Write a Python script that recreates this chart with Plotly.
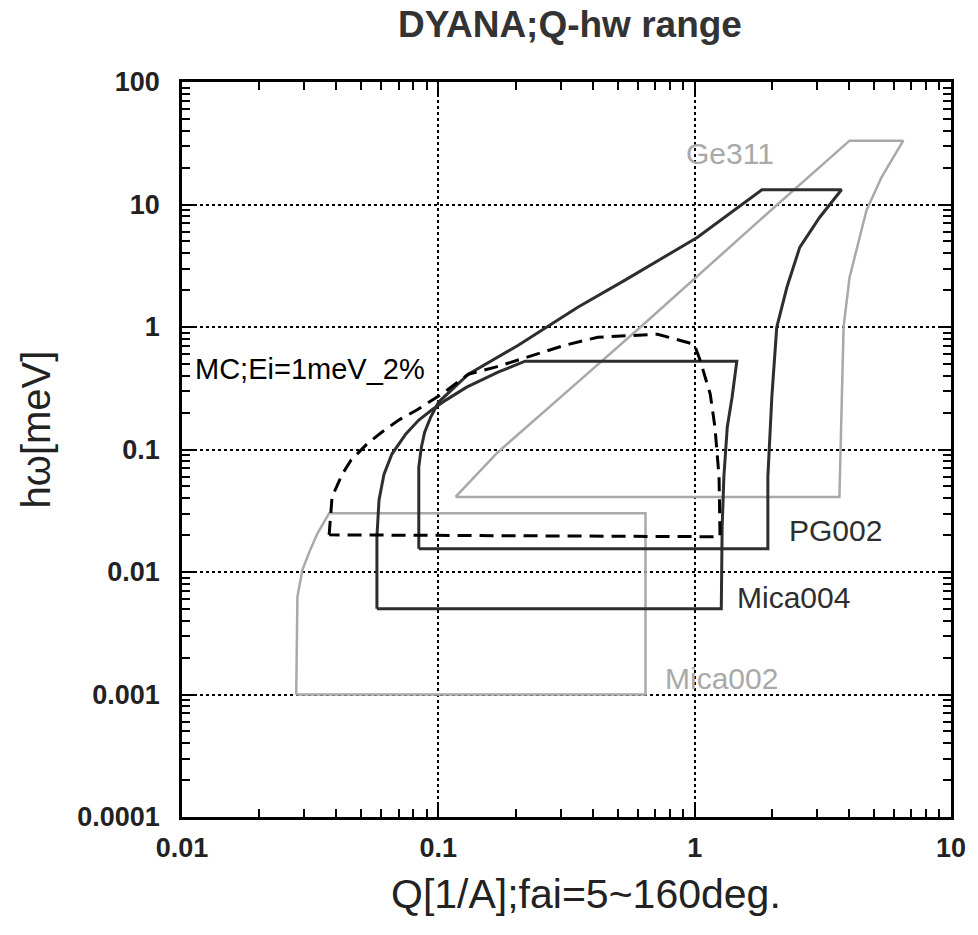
import plotly.graph_objects as go

# ---- data (Q [1/A], hw [meV]) ----
mc_q = [0.0375, 0.0385, 0.0422, 0.0457, 0.0527, 0.0603, 0.0701, 0.0824, 0.103, 0.131,
        0.167, 0.224, 0.312, 0.419, 0.716, 0.996, 1.05, 1.15, 1.20, 1.245, 1.256]
mc_e = [0.0201, 0.041, 0.063, 0.082, 0.111, 0.139, 0.174, 0.21, 0.283, 0.412,
        0.47, 0.568, 0.71, 0.825, 0.873, 0.723, 0.536, 0.283, 0.152, 0.0597, 0.0194]

pg002_q = [0.0839, 0.0839, 0.0859, 0.0885, 0.0934, 0.1003, 0.131, 0.205, 0.350, 0.533,
           1.023, 1.30, 1.83, 3.74, 3.07, 2.57, 2.29, 2.09, 2.0, 1.93, 1.93]
pg002_e = [0.01545, 0.072, 0.105, 0.139, 0.184, 0.244, 0.412, 0.71, 1.45, 2.40,
           5.38, 7.84, 13.2, 13.2, 7.84, 4.47, 2.11, 0.995, 0.268, 0.0597, 0.01545]

mica004_q = [0.0576, 0.0576, 0.0587, 0.0614, 0.0659, 0.0747, 0.0839, 0.0942, 0.107, 0.129,
             0.171, 0.218, 1.46, 1.40, 1.34, 1.30, 1.28, 1.27]
mica004_e = [0.00502, 0.0194, 0.0388, 0.063, 0.0918, 0.134, 0.174, 0.21, 0.253, 0.323,
             0.428, 0.526, 0.526, 0.268, 0.152, 0.0597, 0.0234, 0.00502]

mica002_q = [0.0279, 0.0280, 0.0282, 0.0295, 0.0314, 0.0337, 0.0375, 0.643, 0.643]
mica002_e = [0.001, 0.00431, 0.00628, 0.0104, 0.0146, 0.0205, 0.0302, 0.0302, 0.001]

ge311_q = [0.1167, 0.171, 0.350, 0.615, 2.04, 4.02, 6.51, 5.35, 4.68, 4.02, 3.81, 3.74, 3.67]
ge311_e = [0.041, 0.0955, 0.355, 1.0, 9.46, 33.2, 33.2, 16.6, 8.93, 2.54, 1.0, 0.184, 0.041]

x_ticks = [0.01, 0.1, 1, 10]
x_ticktext = ["0.01", "0.1", "1", "10"]
y_ticks = [0.0001, 0.001, 0.01, 0.1, 1, 10, 100]
y_ticktext = ["0.0001", "0.001", "0.01", "0.1", "1", "10", "100"]
x_minor = [m * 10.0 ** d for d in (-2, -1, 0) for m in range(2, 10)]
y_minor = [m * 10.0 ** d for d in (-4, -3, -2, -1, 0, 1) for m in range(2, 10)]

FONT = "Liberation Sans, Arial, sans-serif"
DARK = "#2e2e2e"
LIGHT = "#a9a9a9"


def closed(a):
    return list(a) + [a[0]]


fig = go.Figure()
fig.add_trace(go.Scatter(x=closed(ge311_q), y=closed(ge311_e), mode="lines",
                         line=dict(color=LIGHT, width=2.5)))
fig.add_trace(go.Scatter(x=closed(mica002_q), y=closed(mica002_e), mode="lines",
                         line=dict(color=LIGHT, width=2.5)))
fig.add_trace(go.Scatter(x=closed(mica004_q), y=closed(mica004_e), mode="lines",
                         line=dict(color=DARK, width=3)))
fig.add_trace(go.Scatter(x=closed(pg002_q), y=closed(pg002_e), mode="lines",
                         line=dict(color=DARK, width=3)))
fig.add_trace(go.Scatter(x=closed(mc_q), y=closed(mc_e), mode="lines",
                         line=dict(color="black", width=3, dash="14px,8px")))

axis_common = dict(
    type="log", showline=True, linecolor="black", linewidth=2.5, mirror="allticks",
    ticks="inside", ticklen=12, tickwidth=2, tickcolor="black",
    showgrid=True, gridcolor="black", griddash="dot", gridwidth=1.5,
    tickfont=dict(family=FONT, size=27, color="#222", weight="bold"),
)

fig.update_xaxes(range=[-2, 1], tickvals=x_ticks, ticktext=x_ticktext, ticklabelstandoff=5,
                 minor=dict(tickvals=x_minor, ticks="inside", ticklen=8, tickwidth=1.5,
                            tickcolor="black", showgrid=False),
                 **axis_common)
fig.update_yaxes(range=[-4, 2], tickvals=y_ticks, ticktext=y_ticktext, ticklabelstandoff=14,
                 minor=dict(tickvals=y_minor, ticks="inside", ticklen=8, tickwidth=1.5,
                            tickcolor="black", showgrid=False),
                 **axis_common)

labels = [
    ("Ge311", 0.653, 0.903, LIGHT, 30),
    ("PG002", 0.787, 0.390, DARK, 30),
    ("Mica004", 0.719, 0.299, DARK, 30),
    ("Mica002", 0.625, 0.189, LIGHT, 30),
    ("MC;Ei=1meV_2%", 0.0142, 0.610, "black", 29),
]
for txt, px, py, col, fs in labels:
    fig.add_annotation(text=txt, x=px, y=py, xref="paper", yref="paper",
                       xanchor="left", yanchor="middle", showarrow=False,
                       font=dict(family=FONT, size=fs, color=col))

fig.add_annotation(text="Q[1/A];fai=5~160deg.", x=0.525, y=-0.105, xref="paper", yref="paper",
                   xanchor="center", yanchor="middle", showarrow=False,
                   font=dict(family=FONT, size=41, color="#222"))
fig.add_annotation(text="hω[meV]", x=-0.190, y=0.527, xref="paper", yref="paper",
                   xanchor="center", yanchor="middle", textangle=-90, showarrow=False,
                   font=dict(family=FONT, size=40, color="#222"))

fig.update_layout(
    width=978, height=935,
    margin=dict(l=182, r=23, t=82, b=118),
    paper_bgcolor="white", plot_bgcolor="white",
    showlegend=False,
    title=dict(text="<b>DYANA;Q-hw range</b>", x=0.5045, xref="paper", y=0.974,
               yanchor="middle", font=dict(family=FONT, size=37, color="#333")),
)

fig.write_html("out.html")
